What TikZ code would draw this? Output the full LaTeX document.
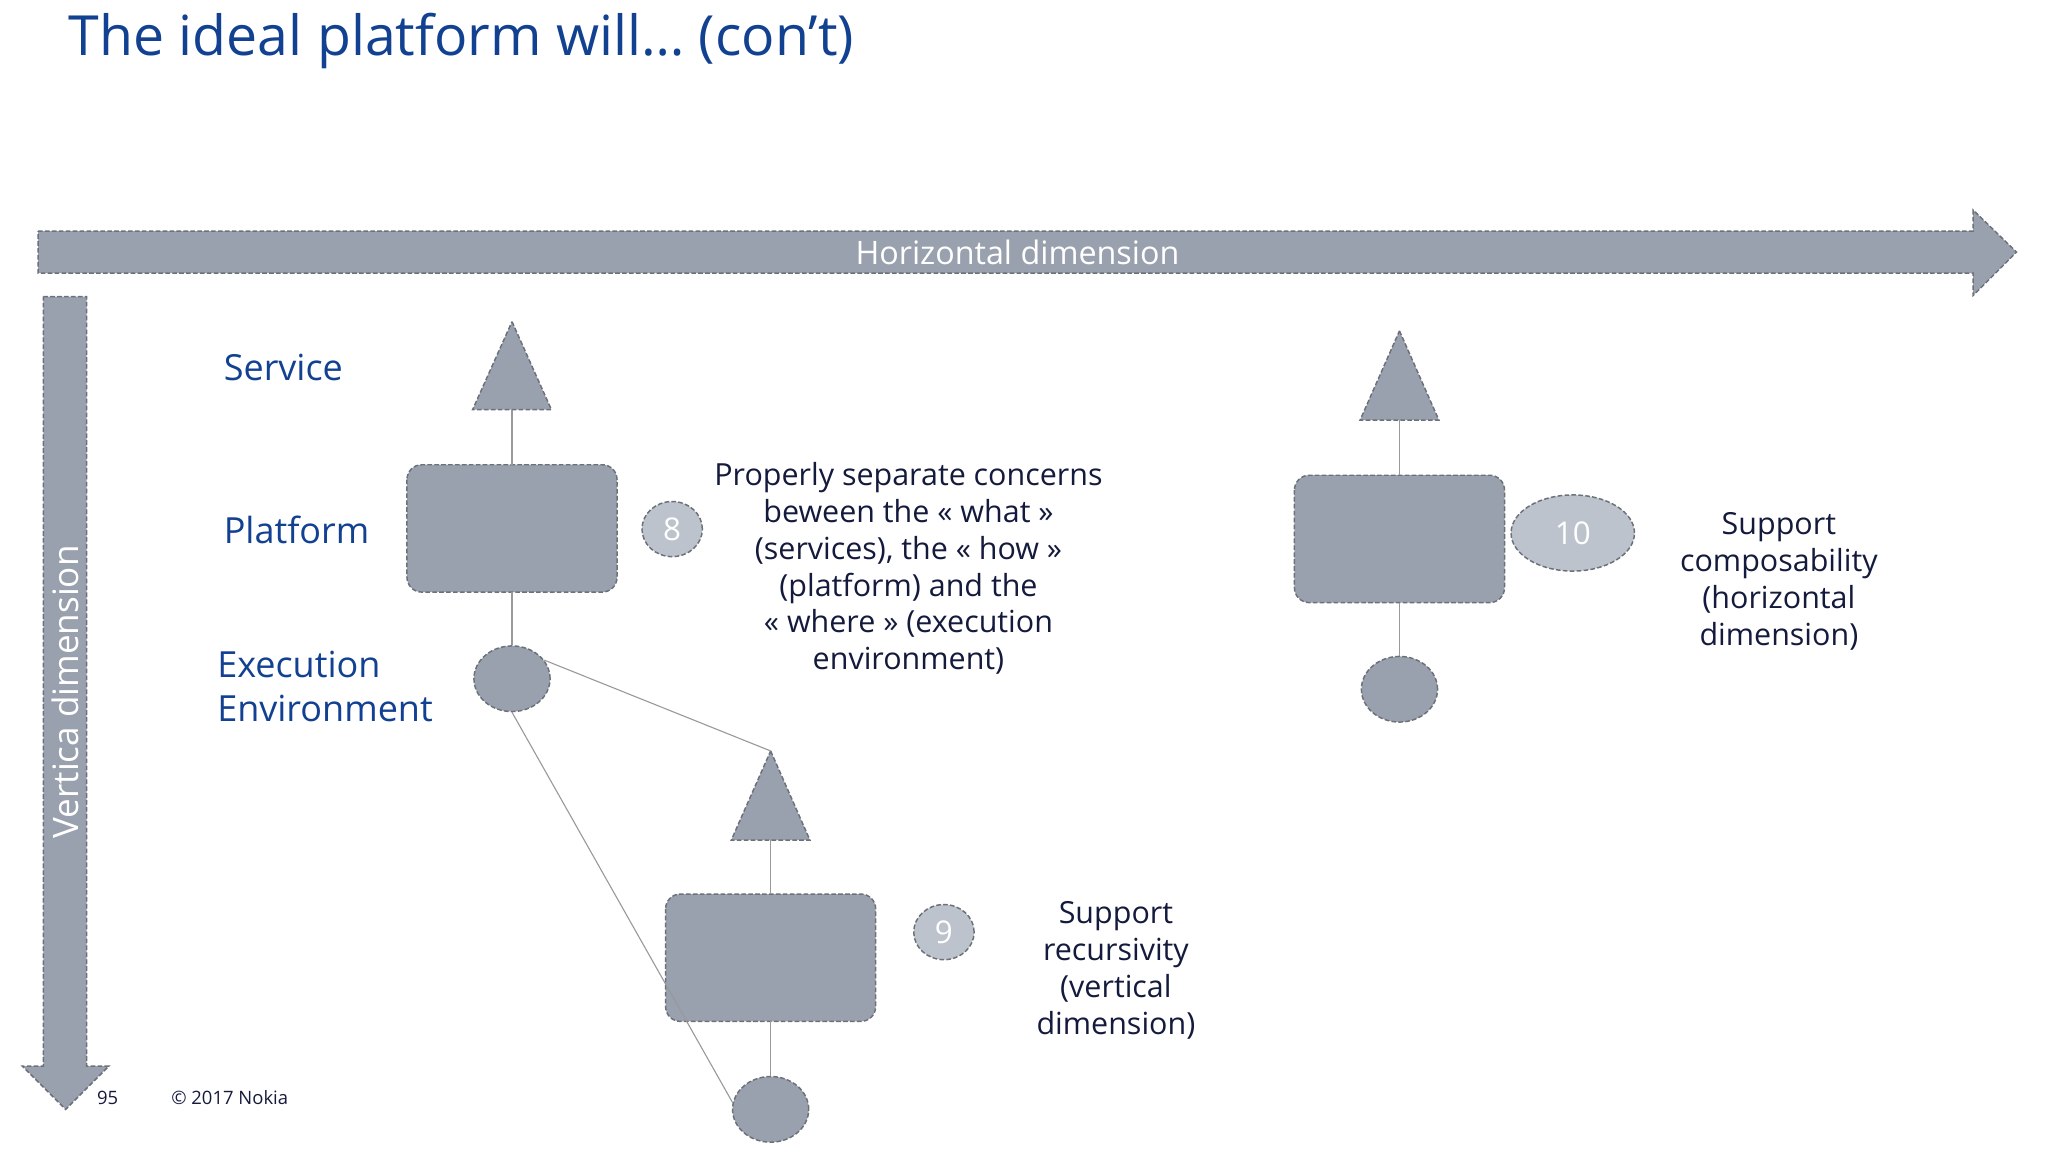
\documentclass[tikz,border=0pt]{standalone}
\usepackage{fontspec}
\setmainfont{Open Sans}
\usetikzlibrary{shapes.geometric}
\definecolor{shp}{HTML}{9AA1AE}
\definecolor{lite}{HTML}{BDC3CC}
\definecolor{edge}{HTML}{6C7079}
\definecolor{nblue}{HTML}{124191}
\definecolor{ntext}{HTML}{141A3C}
\tikzset{
  gshape/.style={fill=shp,draw=edge,dash pattern=on 5pt off 2.5pt,line width=1.6pt},
  badge/.style={ellipse,fill=lite,draw=edge,dash pattern=on 5pt off 2.5pt,line width=1.6pt,text=white,inner sep=0pt,font=\fontsize{34}{40}\selectfont},
  lbl/.style={text=nblue,anchor=west,font=\fontsize{39}{48}\selectfont,align=left},
  note/.style={text=ntext,align=center,font=\fontsize{33}{40}\selectfont},
  conn/.style={draw=gray!80,line width=1.2pt},
  env/.style={gshape,ellipse,inner sep=0pt,minimum width=2.9cm,minimum height=2.5cm},
  rbox/.style={gshape,rounded corners=16pt},
}
\begin{document}
\begin{tikzpicture}[x=0.05cm,y=-0.05cm]
\useasboundingbox (0,0) rectangle (1560,877.5);
\node[anchor=west,text=nblue,font=\fontsize{60}{62}\selectfont] (title) at (50,31) {The ideal platform will… (con’t)};
% horizontal arrow
\draw[gshape] (29,176) -- (1503,176) -- (1503,160) -- (1536,192) -- (1503,225) -- (1503,208) -- (29,208) -- cycle;
\node[text=white,font=\fontsize{35}{40}\selectfont] (hd) at (775,192) {Horizontal dimension};
% vertical arrow
\draw[gshape] (33,226) -- (66,226) -- (66,812) -- (83,812) -- (50,845) -- (17,812) -- (33,812) -- cycle;
\node[text=white,rotate=90,font=\fontsize{38}{40}\selectfont] (vd) at (50,527) {Vertica dimension};
% labels
\node[lbl] (svc) at (168,280) {Service};
\node[lbl] (plat) at (168,404) {Platform};
\node[lbl,text depth=0pt] (exe) at (163,523) {Execution\\Environment};
% stack 1
\draw[gshape] (390,245) -- (420,312) -- (360,312) -- cycle;
\coordinate (t1) at (390,312);
\draw[rbox] (310,354) rectangle (470,451);
\coordinate (r1t) at (390,354); \coordinate (r1b) at (390,451);
\node[env] (e1) at (390,517) {};
\draw[conn] (t1) -- (r1t); \draw[conn] (r1b) -- (e1.north);
\node[badge,minimum width=2.3cm,minimum height=2.1cm] (b8) at (512,403) {8};
% stack 2
\draw[gshape] (587,572) -- (617,640) -- (557,640) -- cycle;
\coordinate (a2) at (587,572); \coordinate (t2) at (587,640);
\draw[rbox] (507,681) rectangle (667,778);
\coordinate (r2t) at (587,681); \coordinate (r2b) at (587,778);
\node[env] (e2) at (587,845) {};
\draw[conn] (t2) -- (r2t); \draw[conn] (r2b) -- (e2.north);
\node[badge,minimum width=2.3cm,minimum height=2.1cm] (b9) at (719,710) {9};
\draw[conn] (e1.30) -- (a2);
\draw[conn] (e1.south) -- (e2.170);
% stack 3
\draw[gshape] (1066,252) -- (1096,320) -- (1036,320) -- cycle;
\coordinate (t3) at (1066,320);
\draw[rbox] (986,362) rectangle (1146,459);
\coordinate (r3t) at (1066,362); \coordinate (r3b) at (1066,459);
\node[env] (e3) at (1066,525) {};
\draw[conn] (t3) -- (r3t); \draw[conn] (r3b) -- (e3.north);
\node[badge,minimum width=4.7cm,minimum height=2.9cm] (b10) at (1198,406) {10};
% notes
\node[note] (n8) at (692,433) {Properly separate concerns\\beween the « what »\\(services), the « how »\\(platform) and the\\« where » (execution\\environment)};
\node[note] (n9) at (850,739) {Support\\recursivity\\(vertical\\dimension)};
\node[note] (n10) at (1355,443) {Support\\composability\\(horizontal\\dimension)};
% footer
\node[text=ntext,font=\fontsize{20}{22}\selectfont] (pg) at (82,836) {95};
\node[text=ntext,font=\fontsize{20}{22}\selectfont,anchor=west] (cp) at (128,836) {© 2017 Nokia};
\end{tikzpicture}
\end{document}
